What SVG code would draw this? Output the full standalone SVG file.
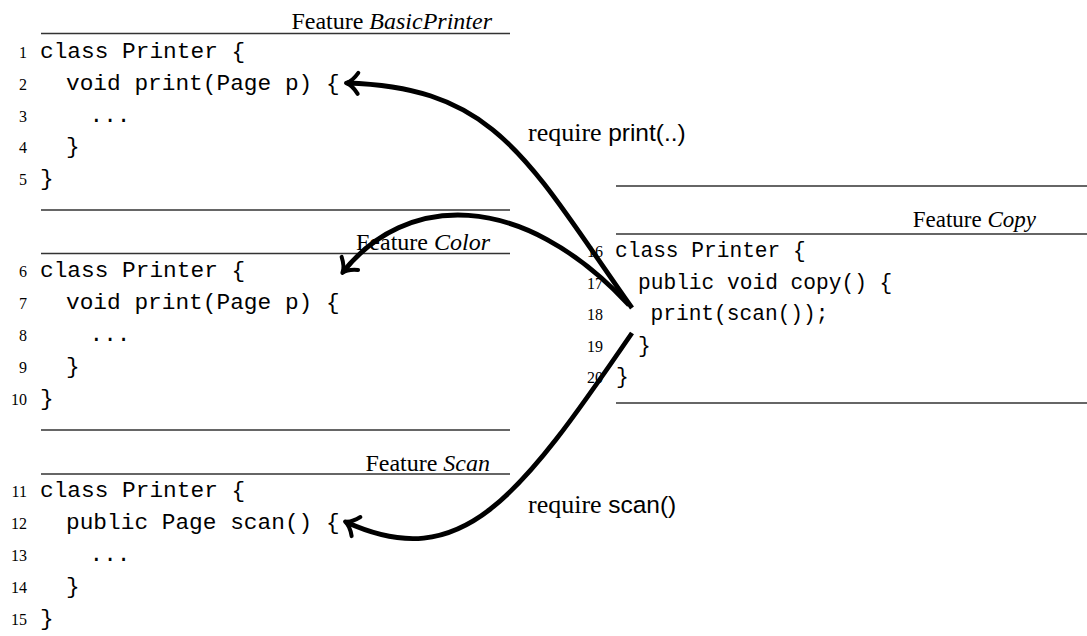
<svg xmlns="http://www.w3.org/2000/svg" width="1087" height="636" viewBox="0 0 1087 636">
  <style>
    .code { font-family: "Liberation Mono", "DejaVu Sans Mono", monospace; font-size: 22.8px; fill: #000; }
    .code-r { font-family: "Liberation Mono", "DejaVu Sans Mono", monospace; font-size: 21.2px; fill: #000; }
    .ln { font-family: "Liberation Serif", serif; font-size: 16px; fill: #000; text-anchor: end; }
    .head { font-family: "Liberation Serif", serif; font-size: 24px; fill: #000; text-anchor: end; }
    .head-r { font-family: "Liberation Serif", serif; font-size: 23px; fill: #000; text-anchor: end; }
    .it { font-style: italic; }
    .rule { stroke: #333; stroke-width: 1.3; }
    .label { font-family: "Liberation Serif", serif; font-size: 26px; fill: #000; }
    .sf { font-family: "Liberation Sans", Arial, sans-serif; font-size: 24.5px; }
    .dep { fill: none; stroke: #000; stroke-width: 4.8; stroke-linecap: butt; marker-end: url(#tip); }
  </style>
  <defs>
    <marker id="tip" markerUnits="userSpaceOnUse" viewBox="-16 -16 32 32" markerWidth="32" markerHeight="32" refX="0" refY="0" orient="auto" overflow="visible">
      <path d="M-11,-10.5 C-7,-4.5 -3.5,-1.2 1,0 C-3.5,1.2 -7,4.5 -11,10.5" fill="none" stroke="#000" stroke-width="4" stroke-linecap="round" stroke-linejoin="round"/>
    </marker>
  </defs>

  <!-- feature module BasicPrinter -->
  <g id="feature-basicprinter">
    <text class="head" x="492" y="29">Feature <tspan class="it">BasicPrinter</tspan></text>
    <line class="rule" x1="41" y1="33.5" x2="510" y2="33.5"/>
    <text class="ln" x="27" y="58">1</text>
    <text class="ln" x="27" y="90">2</text>
    <text class="ln" x="27" y="121.5">3</text>
    <text class="ln" x="27" y="153">4</text>
    <text class="ln" x="27" y="185">5</text>
    <text class="code" x="40" y="58">class Printer {</text>
    <text class="code" x="66" y="90">void print(Page p) {</text>
    <text class="code" x="89.5" y="121.5">...</text>
    <text class="code" x="66" y="153">}</text>
    <text class="code" x="40" y="185">}</text>
    <line class="rule" x1="41" y1="210" x2="510" y2="210"/>
  </g>

  <!-- feature module Color -->
  <g id="feature-color">
    <text class="head" x="490" y="250">Feature <tspan class="it">Color</tspan></text>
    <line class="rule" x1="41" y1="253.5" x2="510" y2="253.5"/>
    <text class="ln" x="27" y="277">6</text>
    <text class="ln" x="27" y="309">7</text>
    <text class="ln" x="27" y="341">8</text>
    <text class="ln" x="27" y="373">9</text>
    <text class="ln" x="27" y="405">10</text>
    <text class="code" x="40" y="277">class Printer {</text>
    <text class="code" x="66" y="309">void print(Page p) {</text>
    <text class="code" x="89.5" y="341">...</text>
    <text class="code" x="66" y="373">}</text>
    <text class="code" x="40" y="405">}</text>
    <line class="rule" x1="41" y1="430" x2="510" y2="430"/>
  </g>

  <!-- feature module Scan -->
  <g id="feature-scan">
    <text class="head" x="490" y="471">Feature <tspan class="it">Scan</tspan></text>
    <line class="rule" x1="41" y1="474" x2="510" y2="474"/>
    <text class="ln" x="27" y="497">11</text>
    <text class="ln" x="27" y="529">12</text>
    <text class="ln" x="27" y="561">13</text>
    <text class="ln" x="27" y="593">14</text>
    <text class="ln" x="27" y="625">15</text>
    <text class="code" x="40" y="497">class Printer {</text>
    <text class="code" x="66" y="529">public Page scan() {</text>
    <text class="code" x="89.5" y="561">...</text>
    <text class="code" x="66" y="593">}</text>
    <text class="code" x="40" y="625">}</text>
  </g>

  <!-- feature module Copy -->
  <g id="feature-copy">
    <line class="rule" x1="616" y1="186" x2="1087" y2="186"/>
    <text class="head-r" x="1036" y="227">Feature <tspan class="it">Copy</tspan></text>
    <line class="rule" x1="616" y1="234" x2="1087" y2="234"/>
    <text class="ln" x="603" y="257">16</text>
    <text class="ln" x="603" y="288.5">17</text>
    <text class="ln" x="603" y="320">18</text>
    <text class="ln" x="603" y="351.5">19</text>
    <text class="ln" x="603" y="383">20</text>
    <text class="code-r" x="615" y="257">class Printer {</text>
    <text class="code-r" x="638" y="288.5">public void copy() {</text>
    <text class="code-r" x="650.5" y="320">print(scan());</text>
    <text class="code-r" x="638" y="351.5">}</text>
    <text class="code-r" x="616" y="383">}</text>
    <line class="rule" x1="616" y1="403" x2="1087" y2="403"/>
  </g>

  <!-- requirement labels -->
  <g id="labels">
    <text class="label" x="528" y="141">require <tspan class="sf">print(..)</tspan></text>
    <text class="label" x="528" y="513">require <tspan class="sf">scan()</tspan></text>
  </g>

  <!-- dependency arrows from copy() to the methods it calls -->
  <g id="connectors">
    <path class="dep" d="M632,308 C528,161 497,87.5 347,83"/>
    <path class="dep" d="M629,305 C520,188 405,194 343,272"/>
    <path class="dep" d="M632,333 C519,498 462,575 346,522"/>
  </g>
</svg>
